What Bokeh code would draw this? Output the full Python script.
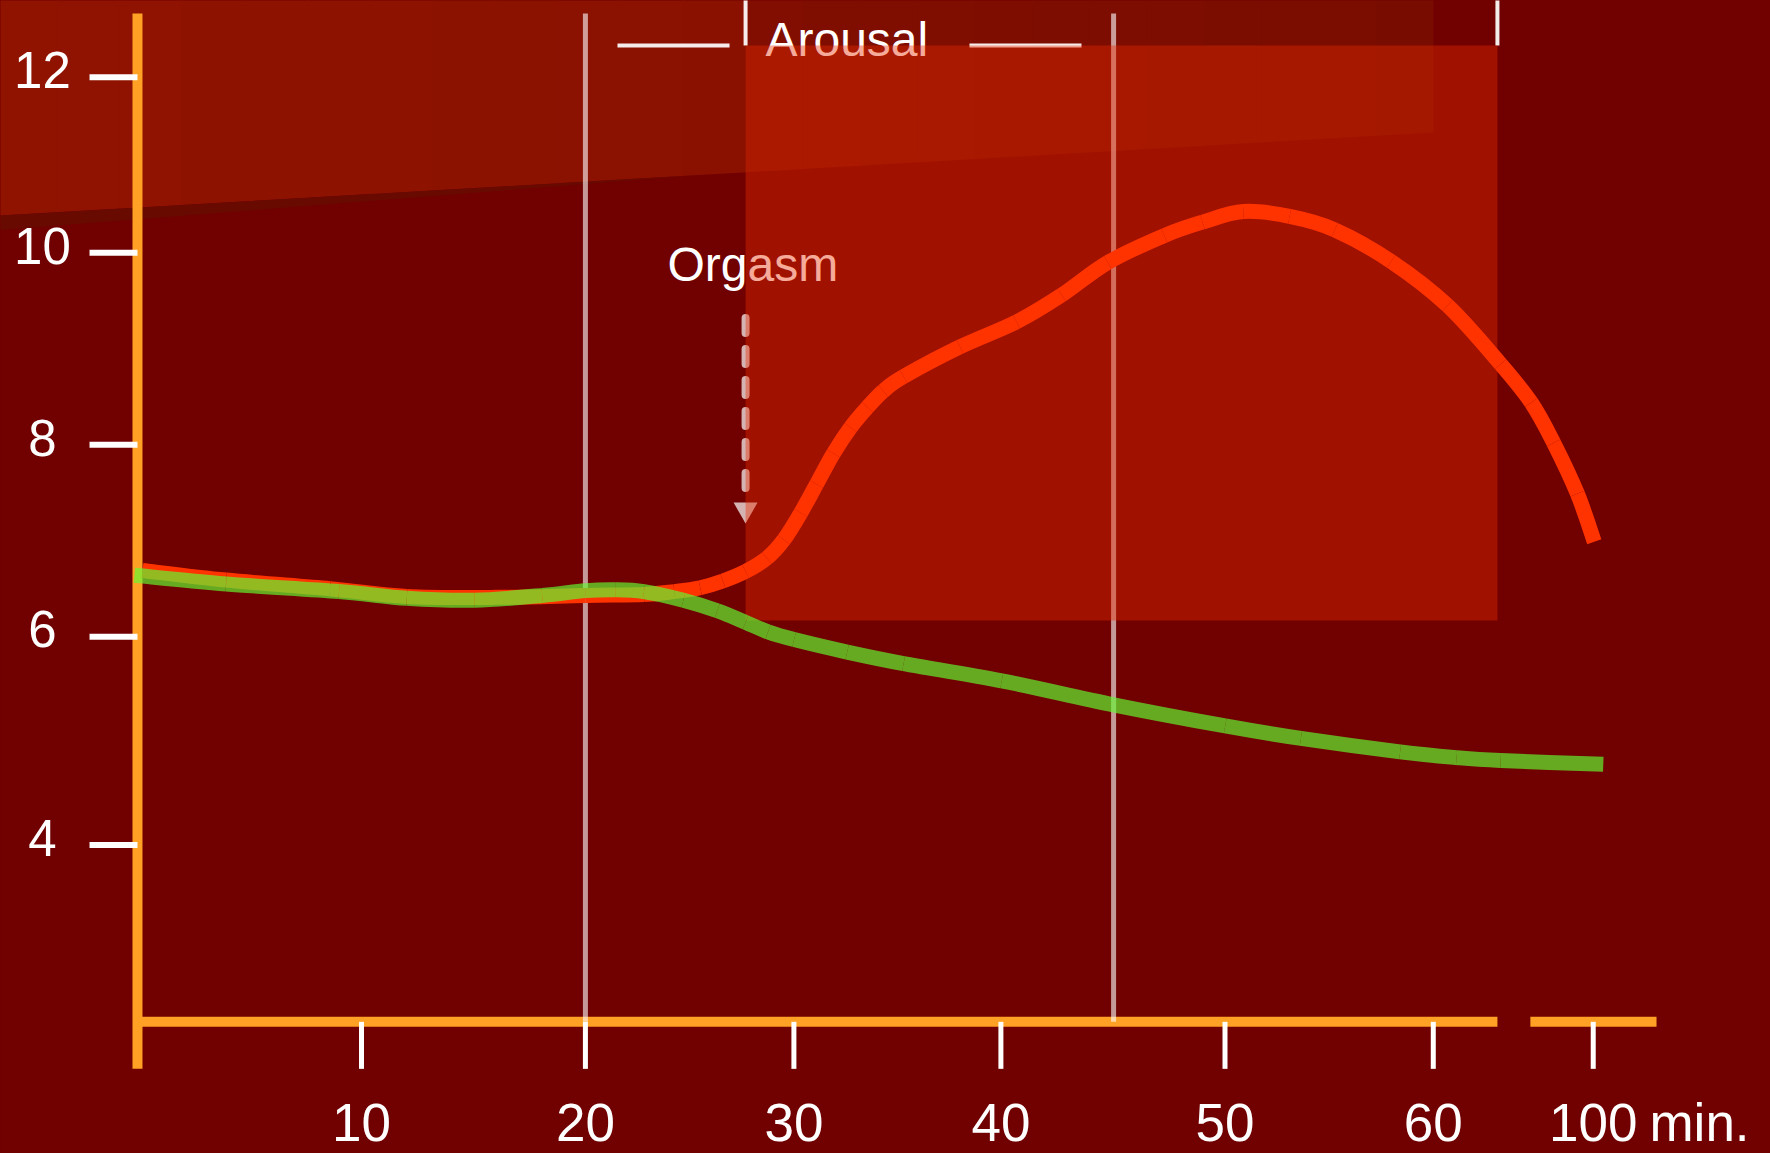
import numpy as np
from bokeh.plotting import figure
from bokeh.models import Range1d, GlobalInlineStyleSheet
from bokeh.core.properties import value
from bokeh.embed import file_html
from bokeh.resources import INLINE

# ---------------- data (x in minutes, y in value units) ----------------
red_t = [-0.42, 3.49, 8.35, 11.94, 16.16, 20.28, 23.03, 24.45, 25.66, 26.72, 27.78, 28.78,
         29.57, 30.36, 31.10, 31.89, 32.69, 33.48, 34.22, 35.17, 37.81, 40.45, 42.56, 44.72,
         47.36, 49.15, 51.06, 53.22, 55.33, 57.97, 60.61, 63.09, 64.52, 65.57, 66.68, 67.47]
red_v = [6.76, 6.66, 6.57, 6.49, 6.48, 6.50, 6.51, 6.54, 6.58, 6.65, 6.75, 6.89,
         7.08, 7.36, 7.66, 7.98, 8.25, 8.46, 8.63, 8.78, 9.09, 9.35, 9.63, 9.97,
         10.25, 10.39, 10.50, 10.45, 10.31, 9.98, 9.52, 8.91, 8.51, 8.09, 7.56, 7.06]

green_t = [-0.80, 3.49, 8.77, 11.94, 15.11, 18.27, 20.28, 21.71, 23.03, 24.87, 26.46, 27.78,
           28.83, 30.05, 32.53, 35.17, 39.76, 44.99, 50.21, 53.75, 58.39, 61.03, 63.09, 67.89]
green_v = [6.71, 6.62, 6.54, 6.47, 6.45, 6.50, 6.55, 6.56, 6.54, 6.45, 6.34, 6.22,
           6.12, 6.04, 5.91, 5.79, 5.61, 5.36, 5.14, 5.01, 4.87, 4.81, 4.78, 4.74]

x_tick_pos = [9.82, 20.29, 30.04, 39.72, 50.20, 59.94, 67.42]
x_tick_labels = ["10", "20", "30", "40", "50", "60", "100"]
y_tick_pos = [11.90, 10.07, 8.07, 6.07, 3.90]
y_tick_labels = ["12", "10", "8", "6", "4"]

gridline_t = [20.29, 44.99]
orgasm_t = 27.78
arousal_end_t = 62.94
arousal_box_v = [6.238, 12.229]

# ---------------- layout constants ----------------
X_MIN, X_MAX = -7.063, 75.71
Y_MIN, Y_MAX = 0.685, 12.699
AXIS_X = -0.657
AXIS_Y = 2.057
AXIS_BOTTOM = 1.567
AXIS_TOP = 12.563
TICK_LEFT = -2.90
BREAK_SEG = (64.48, 70.38)

BG = "#710000"
ORANGE = "#ffa124"
FONT = value("Liberation Sans")

p = figure(width=1770, height=1153,
           x_range=Range1d(X_MIN, X_MAX), y_range=Range1d(Y_MIN, Y_MAX),
           output_backend="svg", toolbar_location=None,
           x_axis_type=None, y_axis_type=None, min_border=0,
           background_fill_color=BG, border_fill_color=BG,
           outline_line_color=None)
p.stylesheets = [GlobalInlineStyleSheet(css="html, body { background-color: #710000; }")]

# ---- top band with horizontal gradient (drawn as opaque strips) ----
BAND_RIGHT = 59.95
BAND_B0 = 10.458
BAND_SLOPE = 0.012923
BAND_TOP = 12.9


def band_bottom(x):
    return BAND_B0 + (x - X_MIN) * BAND_SLOPE


xs, ys, cols = [], [], []
segments = [(X_MIN - 0.3, orgasm_t, (144, 19, 0), (138, 17, 0)),
            (orgasm_t, BAND_RIGHT, (129, 14, 0), (121, 12, 0))]
N = 12
for a, b, c0, c1 in segments:
    for i in range(N):
        xa = a + (b - a) * i / N
        xb = a + (b - a) * (i + 1) / N
        xe = xb + 0.06 if not (b == BAND_RIGHT and i == N - 1) else xb
        xs.append([xa, xe, xe, xa])
        ys.append([BAND_TOP, BAND_TOP, band_bottom(xe), band_bottom(xa)])
        f = (i + 0.5) / N
        c = tuple(int(round(c0[k] + (c1[k] - c0[k]) * f)) for k in range(3))
        cols.append("#%02x%02x%02x" % c)
p.patches(xs=xs, ys=ys, fill_color=cols, line_color=None)

# shadow under the band
sx0, sx1 = X_MIN - 0.3, 25.67
p.patch(x=[sx0, sx1, sx0], y=[band_bottom(sx0), band_bottom(sx1), 10.302],
        fill_color="#680a00", line_color=None)

# ---- orange axes ----
p.segment(x0=[AXIS_X], y0=[AXIS_BOTTOM], x1=[AXIS_X], y1=[AXIS_TOP],
          line_color=ORANGE, line_width=10, line_cap="butt")
p.segment(x0=[AXIS_X, BREAK_SEG[0]], y0=[AXIS_Y, AXIS_Y],
          x1=[arousal_end_t, BREAK_SEG[1]], y1=[AXIS_Y, AXIS_Y],
          line_color=ORANGE, line_width=10, line_cap="butt")

# ---- vertical gridlines ----
p.segment(x0=gridline_t, x1=gridline_t, y0=[AXIS_Y] * 2, y1=[AXIS_TOP] * 2,
          line_color="white", line_alpha=0.6, line_width=5)

# text anchor correction (px -> data units) so that glyph baselines land where intended
PX_PER_V = 95.97


def lift(px):
    return px / PX_PER_V


# ---- annotation texts (under the arousal box) ----
p.text(x=[24.13], y=[9.761 + lift(18)], text=["Orgasm"], text_font=FONT, text_font_size="48px",
       text_color="white", text_align="left", text_baseline="alphabetic")
p.text(x=[28.71], y=[12.102 + lift(18)], text=["Arousal"], text_font=FONT, text_font_size="48px",
       text_color="white", text_align="left", text_baseline="alphabetic")

# arousal bracket lines
br_y = arousal_box_v[1]
p.segment(x0=[21.79, 38.25], x1=[27.03, 43.49], y0=[br_y, br_y], y1=[br_y, br_y],
          line_color="white", line_alpha=0.92, line_width=4)
p.segment(x0=[orgasm_t, arousal_end_t], x1=[orgasm_t, arousal_end_t],
          y0=[br_y, br_y], y1=[BAND_TOP, BAND_TOP],
          line_color="white", line_alpha=0.92, line_width=4)

# dashed arrow
p.line(x=[orgasm_t, orgasm_t], y=[9.39, 7.56], line_color="white", line_alpha=0.7,
       line_width=8, line_dash="15 16", line_cap="round")
p.scatter(x=[orgasm_t], y=[7.395], marker="inverted_triangle", size=24,
          fill_color="white", fill_alpha=0.7, line_color=None)

# ---- arousal box (semi-transparent) ----
p.quad(left=[orgasm_t], right=[arousal_end_t], bottom=[arousal_box_v[0]], top=[arousal_box_v[1]],
       fill_color="#e82a00", fill_alpha=0.4, line_color=None)

# ---- ticks ----
p.segment(x0=[TICK_LEFT] * len(y_tick_pos), x1=[AXIS_X] * len(y_tick_pos),
          y0=y_tick_pos, y1=y_tick_pos, line_color="white", line_width=6)
p.segment(x0=x_tick_pos, x1=x_tick_pos, y0=[AXIS_Y] * len(x_tick_pos),
          y1=[AXIS_BOTTOM] * len(x_tick_pos), line_color="white", line_width=5)


# ---- curves: smooth Bezier path through the read points ----
def bezier_through(xv, yv):
    n = len(xv)
    out = {k: [] for k in ("x0", "y0", "x1", "y1", "cx0", "cy0", "cx1", "cy1")}
    for i in range(n - 1):
        i0 = max(i - 1, 0)
        i3 = min(i + 2, n - 1)
        out["x0"].append(xv[i]); out["y0"].append(yv[i])
        out["x1"].append(xv[i + 1]); out["y1"].append(yv[i + 1])
        out["cx0"].append(xv[i] + (xv[i + 1] - xv[i0]) / 6.0)
        out["cy0"].append(yv[i] + (yv[i + 1] - yv[i0]) / 6.0)
        out["cx1"].append(xv[i + 1] - (xv[i3] - xv[i]) / 6.0)
        out["cy1"].append(yv[i + 1] - (yv[i3] - yv[i]) / 6.0)
    return out


p.bezier(**bezier_through(red_t, red_v), line_color="#ff3300", line_width=15)
p.bezier(**bezier_through(green_t, green_v), line_color="#62fa32", line_alpha=0.68,
         line_width=15)

# ---- tick labels ----
p.text(x=x_tick_pos, y=[0.80 + lift(20)] * len(x_tick_pos), text=x_tick_labels, text_font=FONT,
       text_font_size="53px", text_color="white", text_align="center",
       text_baseline="alphabetic")
p.text(x=[70.05], y=[0.80 + lift(20)], text=["min."], text_font=FONT, text_font_size="53px",
       text_color="white", text_align="left", text_baseline="alphabetic")
p.text(x=[-5.10] * len(y_tick_pos), y=[t - lift(11.8) + lift(19) for t in y_tick_pos],
       text=y_tick_labels, text_font=FONT, text_font_size="51px", text_color="white",
       text_align="center", text_baseline="alphabetic")

open("out.html", "w").write(file_html(p, INLINE))
